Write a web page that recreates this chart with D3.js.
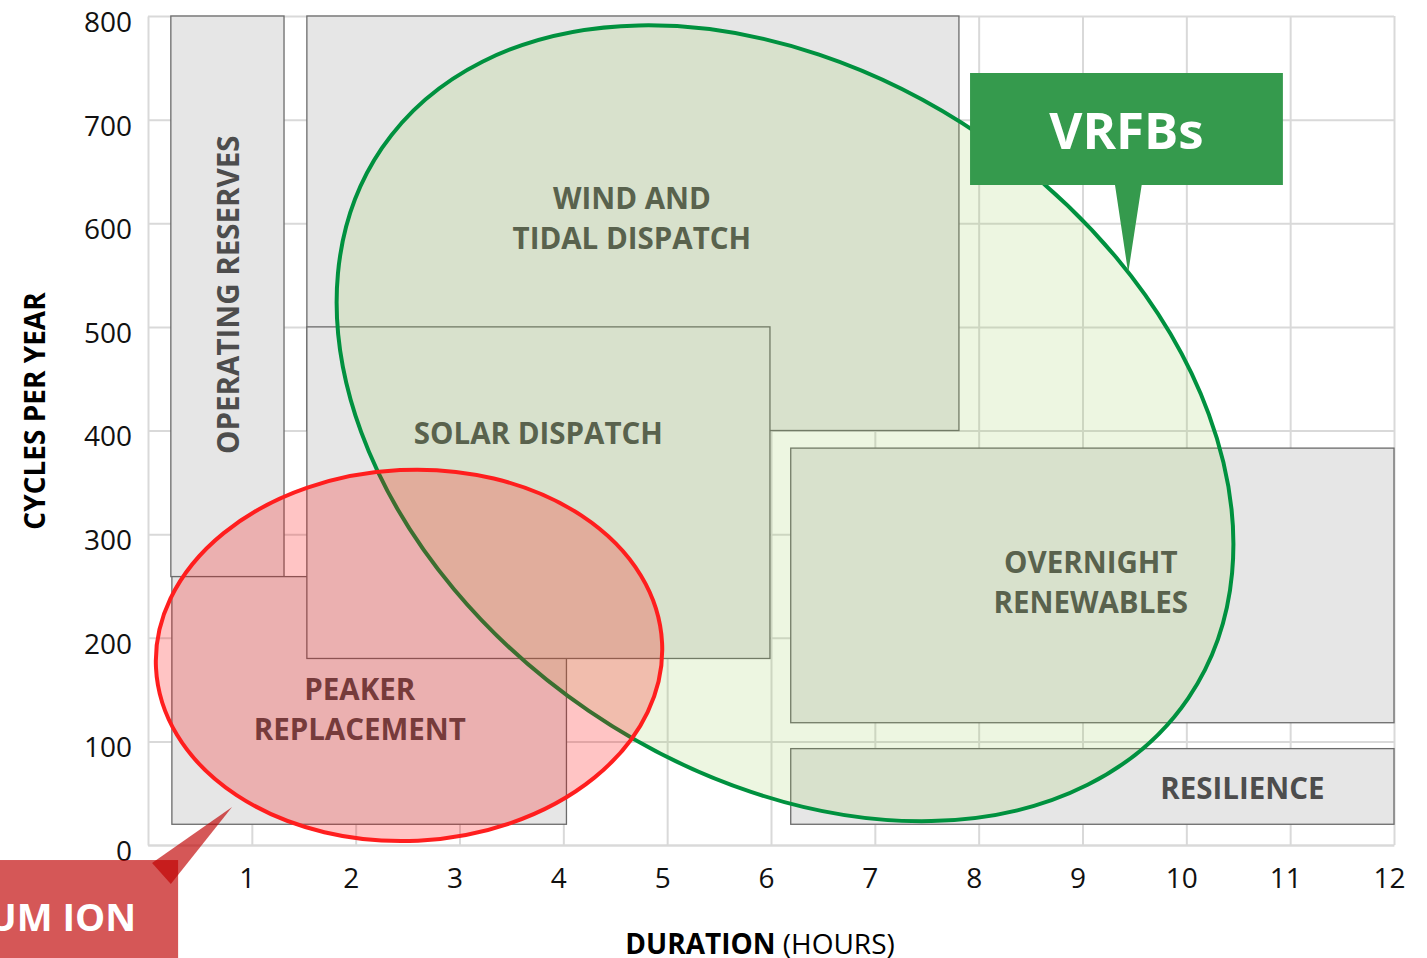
<!DOCTYPE html>
<html lang="en">
<head>
<meta charset="utf-8">
<title>Storage applications - duration vs cycles</title>
<style>
    body { margin: 0; background: #fff; }
    svg { display: block; font-family: "Open Sans", "Noto Sans", sans-serif; }
</style>
</head>
<body>
<script src="https://cdn.jsdelivr.net/npm/d3@7/dist/d3.min.js"></script>
<script>
// axis ticks
var xTicks = [1, 2, 3, 4, 5, 6, 7, 8, 9, 10, 11, 12];
var yTicks = [0, 100, 200, 300, 400, 500, 600, 700, 800];

// application regions: duration span (hours), cycles span (per year), label lines, label anchor
var regionLines = [["OPERATING RESERVES"], ["PEAKER", "REPLACEMENT"], ["WIND AND", "TIDAL DISPATCH"],
    ["SOLAR DISPATCH"], ["OVERNIGHT", "RENEWABLES"], ["RESILIENCE"]];
var regionHours = [[0.22, 1.31], [0.23, 4.03], [1.53, 7.81], [1.53, 5.99], [6.19, 12], [6.19, 12]];
var regionCycles = [[259, 800], [20, 259], [400, 800], [180, 500], [118, 383], [20, 93]];
var labelAt = [[0.77, 531], [2.04, 130], [4.66, 604], [3.76, 397], [9.08, 253], [10.54, 54]];

// technology envelopes: centre (hours, cycles), radii (hours, cycles), tilt (deg)
var techNames = ["VRFBs", "LITHIUM ION"];
var techCentre = [[6.135, 407], [2.514, 183]];
var techRadius = [[4.70, 336], [2.44, 179]];
var techTilt = [34.3, -2.8];

// callouts: box (hours, cycles), pointer base (hours), tip (hours, cycles)
var vrfbBox = [[7.917, 10.93], [637, 745]];
var vrfbPointer = [[9.313, 9.57], [9.44, 552]];
var liBox = [[-1.5, 0.29], [-120, -14.5]];
var liPointer = [[0.039, -17.4], [0.22, -37.6], [0.81, 36.7]];

function main() {
    var width = 1427,
        height = 958;

    var x = d3.scaleLinear().domain([0, 12]).range([148, 1394]);
    var y = d3.scaleLinear().domain([0, 800]).range([845, 16]);

    var svg = d3.select("body").append("svg")
        .attr("width", width)
        .attr("height", height);

    // grid + tick labels
    var gx = svg.append("g")
        .attr("transform", "translate(0," + y(0) + ")")
        .call(d3.axisBottom(x).tickValues(xTicks).tickSize(-(y(0) - y(800))).tickSizeOuter(0).tickPadding(23));
    var gy = svg.append("g")
        .attr("transform", "translate(" + x(0) + ",0)")
        .call(d3.axisLeft(y).tickValues(yTicks).tickSize(-(x(12) - x(0))).tickSizeOuter(0).tickPadding(16));

    [gx, gy].forEach(function (g) {
        g.selectAll("line, path").attr("stroke", "#d9d9d9").attr("stroke-width", 2);
        g.selectAll("text").attr("fill", "#111").style("font-size", "28px")
            .style("font-family", '"Open Sans", sans-serif');
    });
    gx.selectAll("text").attr("dx", -5);
    gy.selectAll("text").attr("dy", "0.55em");

    // application boxes
    var regions = regionLines.map(function (lines, i) {
        return {lines: lines, h: regionHours[i], c: regionCycles[i], at: labelAt[i], i: i};
    });

    svg.append("g").selectAll("rect")
        .data(regions)
        .enter().append("rect")
        .attr("x", function (d) { return x(d.h[0]); })
        .attr("y", function (d) { return y(d.c[1]); })
        .attr("width", function (d) { return x(d.h[1]) - x(d.h[0]); })
        .attr("height", function (d) { return y(d.c[0]) - y(d.c[1]); })
        .attr("fill", "#e6e6e6")
        .attr("stroke", "#6b6b6b")
        .attr("stroke-width", 1.3);

    var labels = svg.append("g")
        .attr("fill", "#4d4d4d")
        .attr("font-weight", "bold")
        .style("font-size", "29.5px")
        .attr("text-anchor", "middle");

    regions.forEach(function (d) {
        if (d.i === 0) {
            // vertical label
            labels.append("text")
                .attr("transform", "translate(" + (x(d.at[0]) + 11) + "," + y(d.at[1]) + ") rotate(-90)")
                .text(d.lines[0]);
            return;
        }
        var n = d.lines.length;
        d.lines.forEach(function (line, j) {
            labels.append("text")
                .attr("x", x(d.at[0]))
                .attr("y", y(d.at[1]) + 10 + (j - (n - 1) / 2) * 40)
                .text(line);
        });
    });

    // technology envelopes (green first, red on top)
    var techFill = ["rgba(146,200,80,0.17)", "rgba(255,0,0,0.23)"];
    var techStroke = ["#00913f", "#ff1e1e"];

    svg.append("g").selectAll("ellipse")
        .data(techNames)
        .enter().append("ellipse")
        .attr("rx", function (d, i) { return x(techRadius[i][0]) - x(0); })
        .attr("ry", function (d, i) { return y(0) - y(techRadius[i][1]); })
        .attr("transform", function (d, i) {
            return "translate(" + x(techCentre[i][0]) + "," + y(techCentre[i][1]) + ") rotate(" + techTilt[i] + ")";
        })
        .attr("fill", function (d, i) { return techFill[i]; })
        .attr("stroke", function (d, i) { return techStroke[i]; })
        .attr("stroke-width", 4);

    // VRFB callout
    var p = d3.path();
    p.moveTo(x(vrfbBox[0][0]), y(vrfbBox[1][1]));
    p.lineTo(x(vrfbBox[0][1]), y(vrfbBox[1][1]));
    p.lineTo(x(vrfbBox[0][1]), y(vrfbBox[1][0]));
    p.lineTo(x(vrfbPointer[0][1]), y(vrfbBox[1][0]));
    p.lineTo(x(vrfbPointer[1][0]), y(vrfbPointer[1][1]));
    p.lineTo(x(vrfbPointer[0][0]), y(vrfbBox[1][0]));
    p.lineTo(x(vrfbBox[0][0]), y(vrfbBox[1][0]));
    p.closePath();
    svg.append("path").attr("d", p.toString()).attr("fill", "#359a4d");
    svg.append("text")
        .attr("x", (x(vrfbBox[0][0]) + x(vrfbBox[0][1])) / 2)
        .attr("y", y(vrfbBox[1][1]) + 76)
        .attr("text-anchor", "middle")
        .attr("fill", "#fff")
        .attr("font-weight", "bold")
        .style("font-size", "51px")
        .text(techNames[0]);

    // lithium ion callout (runs off the left edge)
    var liFill = "rgba(192,0,0,0.66)";
    svg.append("rect")
        .attr("x", x(liBox[0][0]))
        .attr("y", y(liBox[1][1]))
        .attr("width", x(liBox[0][1]) - x(liBox[0][0]))
        .attr("height", y(liBox[1][0]) - y(liBox[1][1]))
        .attr("fill", liFill);
    svg.append("path")
        .attr("d", d3.line()(liPointer.map(function (q) { return [x(q[0]), y(q[1])]; })) + "Z")
        .attr("fill", liFill);
    svg.append("text")
        .attr("x", x(liBox[0][1]) - 42)
        .attr("y", y(liBox[1][1]) + 71)
        .attr("text-anchor", "end")
        .attr("fill", "#fff")
        .attr("font-weight", "bold")
        .style("font-size", "38px")
        .text(techNames[1]);

    // axis titles
    svg.append("text")
        .attr("transform", "translate(45," + 411 + ") rotate(-90)")
        .attr("text-anchor", "middle")
        .attr("font-weight", "bold")
        .attr("fill", "#000")
        .style("font-size", "28px")
        .text("CYCLES PER YEAR");

    var xt = svg.append("text")
        .attr("x", (x(0) + x(12)) / 2 - 11)
        .attr("y", 954)
        .attr("text-anchor", "middle")
        .attr("fill", "#000")
        .style("font-size", "28px");
    xt.append("tspan").attr("font-weight", "bold").text("DURATION");
    xt.append("tspan").text(" (HOURS)");
}

window.onload = function () {
    main();
};
</script>
</body>
</html>
